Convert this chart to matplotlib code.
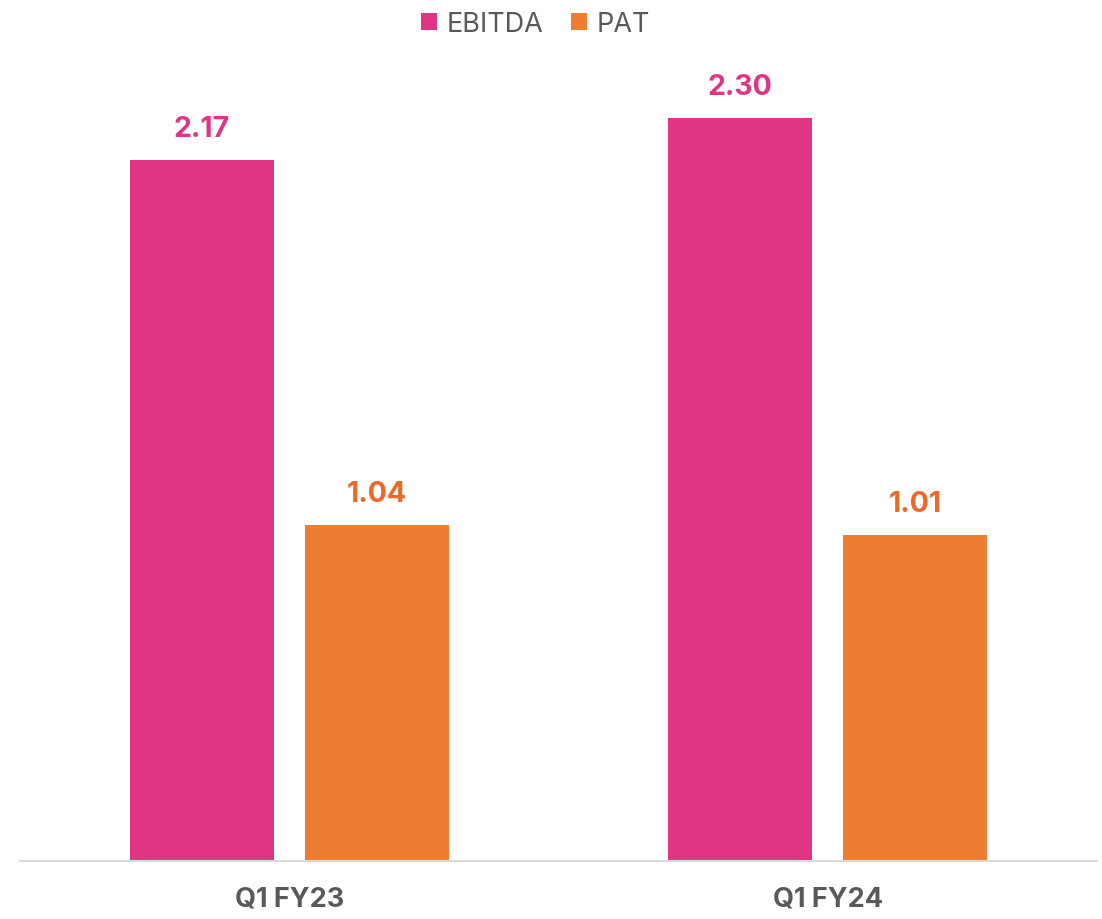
import numpy as np
import matplotlib.pyplot as plt

plt.rcParams['font.family'] = ['Inter', 'DejaVu Sans']

# data
categories = ['Q1 FY23', 'Q1 FY24']
ebitda = [2.17, 2.30]
pat = [1.04, 1.01]

pink = '#E03585'
orange = '#ED7D31'

fig = plt.figure(figsize=(11.02, 9.2), dpi=100)
ax = fig.add_axes([20 / 1102, 58 / 920, 1077 / 1102, (862 - 54.5) / 920])

x = np.arange(len(categories))
w = 0.267
off = 0.1625
b1 = ax.bar(x - off, ebitda, w, color=pink, label='EBITDA')
b2 = ax.bar(x + off, pat, w, color=orange, label='PAT')

for bars, vals, col in [(b1, ebitda, pink), (b2, pat, '#EA6A2A')]:
    for rect, v in zip(bars, vals):
        ax.annotate(f'{v:.2f}', (rect.get_x() + rect.get_width() / 2, v),
                    xytext=(0, 13), textcoords='offset points',
                    ha='center', va='bottom', fontsize=20.5, fontweight='bold', color=col)

ax.set_xlim(-0.5, 1.5)
ax.set_ylim(0, 2.5)
ax.set_xticks(x)
ax.set_xticklabels(categories, fontsize=19.5, fontweight='bold', color='#595959')
ax.tick_params(axis='x', length=0, pad=18)
ax.set_yticks([])
for s in ['top', 'right', 'left']:
    ax.spines[s].set_visible(False)
ax.spines['bottom'].set_color('#D9D9D9')
ax.spines['bottom'].set_linewidth(1.5)

leg = fig.legend(loc='upper center', bbox_to_anchor=(0.486, 1.013), ncol=2, frameon=False,
                 fontsize=19.5, handlelength=0.6, handleheight=0.6, handletextpad=0.35,
                 columnspacing=1.0)
for t in leg.get_texts():
    t.set_color('#595959')

fig.savefig('out.png', dpi=100)
